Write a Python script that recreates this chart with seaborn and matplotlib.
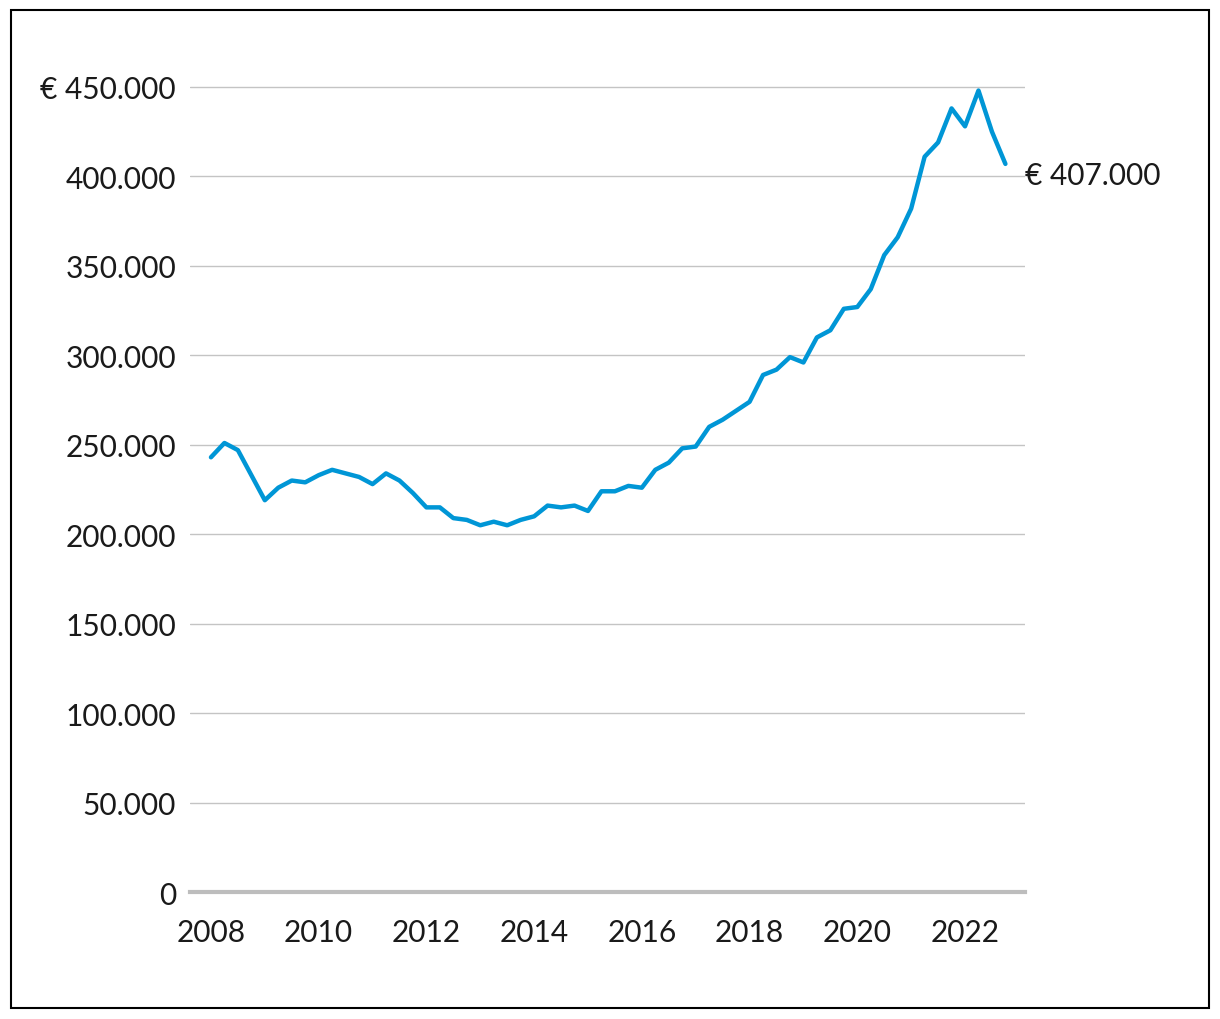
import matplotlib
matplotlib.use("Agg")
import matplotlib.pyplot as plt
import matplotlib.patches as mpatches
from matplotlib.ticker import FuncFormatter
import seaborn as sns
import pandas as pd

# gemiddelde prijs per kwartaal (2008 K1 t/m 2022 K4), in duizenden euro
jaren = [2008 + i / 4 for i in range(60)]
prijzen_k = [243, 251, 247, 233, 219, 226, 230, 229,
             233, 236, 234, 232, 228, 234, 230, 223,
             215, 215, 209, 208, 205, 207, 205, 208,
             210, 216, 215, 216, 213, 224, 224, 227,
             226, 236, 240, 248, 249, 260, 264, 269,
             274, 289, 292, 299, 296, 310, 314, 326,
             327, 337, 356, 366, 382, 411, 419, 438,
             428, 448, 425, 407]
x_ticks = [2008, 2010, 2012, 2014, 2016, 2018, 2020, 2022]
y_ticks = [0, 50000, 100000, 150000, 200000, 250000, 300000, 350000, 400000, 450000]
eind_label = "€ 407.000"

df = pd.DataFrame({"jaar": jaren, "prijs": [p * 1000 for p in prijzen_k]})

sns.set_style("white")
plt.rcParams["font.family"] = ["Lato", "DejaVu Sans"]

fig = plt.figure(figsize=(12.2, 10.2), dpi=100)
ax = fig.add_axes([0.1557, 0.1245, 0.6843, 0.8068])

sns.lineplot(data=df, x="jaar", y="prijs", color="#0096d6", linewidth=3.2, ax=ax)

ax.set_xlim(2007.61, 2023.11)
ax.set_ylim(0, 460000)
ax.set_yticks(y_ticks)
ax.set_xticks(x_ticks)


def fmt(v, pos):
    s = f"{int(v):,}".replace(",", ".")
    if v == 450000:
        s = "€ " + s
    return s


ax.yaxis.set_major_formatter(FuncFormatter(fmt))
ax.grid(axis="y", color="#c4c4c4", linewidth=1)
ax.grid(axis="x", visible=False)
for side in ["top", "right", "left"]:
    ax.spines[side].set_visible(False)
ax.spines["bottom"].set_color("#bdbdbd")
ax.spines["bottom"].set_linewidth(3)
ax.spines["bottom"].set_zorder(3)
ax.tick_params(axis="y", length=0, pad=10, labelsize=21.5, labelcolor="#1a1a1a")
ax.tick_params(axis="x", length=7, width=2, color="#bdbdbd", pad=12,
               labelsize=21.5, labelcolor="#1a1a1a")
ax.set_xlabel("")
ax.set_ylabel("")

ax.annotate(eind_label, xy=(jaren[-1], df["prijs"].iloc[-1]), xytext=(14, -8),
            textcoords="offset points", fontsize=21.5,
            color="#1a1a1a", va="center", ha="left", annotation_clip=False)

fig.patches.append(mpatches.Rectangle((0.009, 0.0108), 0.982, 0.978,
                                      transform=fig.transFigure, fill=False,
                                      edgecolor="black", linewidth=1.5))

fig.savefig("out.png", dpi=100)
